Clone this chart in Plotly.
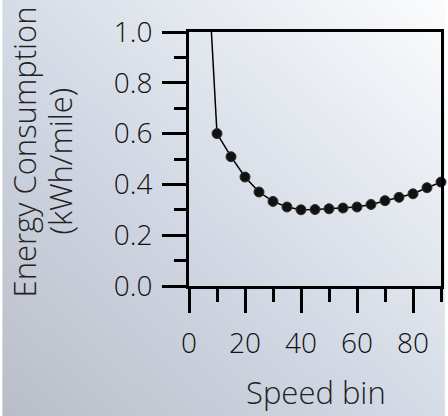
import plotly.graph_objects as go

speed = [5, 10, 15, 20, 25, 30, 35, 40, 45, 50, 55, 60, 65, 70, 75, 80, 85, 90]
energy = [1.60, 0.600, 0.509, 0.429, 0.370, 0.333, 0.311, 0.300, 0.301, 0.304,
          0.307, 0.311, 0.321, 0.336, 0.349, 0.363, 0.387, 0.409]

x_title = "Speed bin"
y_title_1 = "Energy Consumption"
y_title_2 = "(kWh/mile)"

FONT = "Open Sans"
W, H = 448, 416
L, R, T, B = 189, 4, 32, 130
pw, ph = W - L - R, H - T - B

def px_x(p):
    return (p - L) / pw

def px_y(p):
    return (H - B - p) / ph

svg = ("data:image/svg+xml;utf8,"
       "<svg xmlns='http://www.w3.org/2000/svg' width='448' height='416'>"
       "<defs><linearGradient id='g' x1='0' y1='1' x2='1' y2='0'>"
       "<stop offset='0' stop-color='%23b9bdc8'/>"
       "<stop offset='0.45' stop-color='%23d2d9e4'/>"
       "<stop offset='1' stop-color='%23fbfcfd'/>"
       "</linearGradient></defs>"
       "<rect width='448' height='416' fill='url(%23g)'/></svg>")

fig = go.Figure()
fig.add_trace(go.Scatter(x=speed, y=energy, mode="lines",
                         line=dict(color="black", width=1.5),
                         hoverinfo="skip", showlegend=False))
fig.add_trace(go.Scatter(x=speed[1:], y=energy[1:], mode="markers",
                         marker=dict(color="#111111", size=10,
                                     line=dict(color="#333333", width=1)),
                         cliponaxis=False, showlegend=False))

fig.add_layout_image(dict(source=svg, xref="paper", yref="paper",
                          x=-L / pw, y=1 + T / ph, sizex=W / pw, sizey=H / ph,
                          xanchor="left", yanchor="top", sizing="stretch",
                          layer="below"))

title_font = dict(family=FONT, size=31, weight=300, color="#222")
fig.add_annotation(text=y_title_1, xref="paper", yref="paper",
                   x=px_x(22.5), y=px_y(152), textangle=-90,
                   showarrow=False, xanchor="center", yanchor="middle",
                   font=title_font)
fig.add_annotation(text=y_title_2, xref="paper", yref="paper",
                   x=px_x(58), y=px_y(161), textangle=-90,
                   showarrow=False, xanchor="center", yanchor="middle",
                   font=title_font)
fig.add_annotation(text=x_title, xref="paper", yref="paper",
                   x=px_x(317.5), y=px_y(392),
                   showarrow=False, xanchor="center", yanchor="middle",
                   font=dict(family=FONT, size=31, weight=300, color="#222"))

fig.update_layout(
    width=W, height=H,
    margin=dict(l=L, r=R, t=T, b=B),
    paper_bgcolor="white", plot_bgcolor="rgba(0,0,0,0)",
    font=dict(family=FONT, size=28, weight=300, color="#111"),
    xaxis=dict(range=[0, 90], dtick=20, tick0=0, showgrid=False, zeroline=False,
               showline=True, linecolor="black", linewidth=3, mirror=True,
               ticks="outside", ticklen=24, tickwidth=3, tickcolor="black",
               minor=dict(dtick=10, tick0=0, ticklen=13, tickwidth=3,
                          tickcolor="black", ticks="outside", showgrid=False),
               ticklabelstandoff=6),
    yaxis=dict(range=[0, 1], dtick=0.2, tick0=0, tickformat=".1f",
               showgrid=False, zeroline=False,
               showline=True, linecolor="black", linewidth=3, mirror=True,
               ticks="outside", ticklen=24, tickwidth=3, tickcolor="black",
               minor=dict(dtick=0.1, tick0=0, ticklen=12, tickwidth=3,
                          tickcolor="black", ticks="outside", showgrid=False),
               ticklabelstandoff=4),
)

fig.write_html("out.html")
